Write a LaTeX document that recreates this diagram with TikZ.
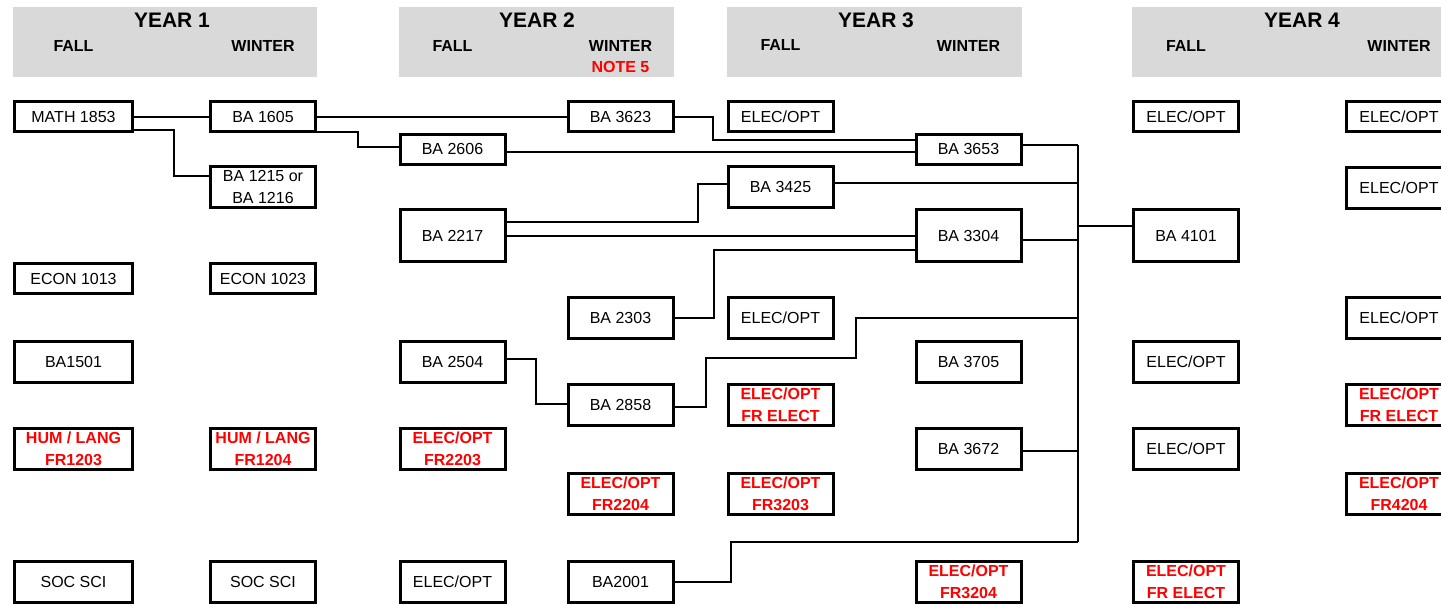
\documentclass[tikz,border=0pt]{standalone}
\usepackage{fontspec}
\setmainfont{Liberation Sans}
\definecolor{hdrgray}{RGB}{217,217,217}
\tikzset{
  course/.style={draw, line width=3pt, minimum width=105pt, minimum height=41pt,
    inner sep=0pt, align=center, font=\fontsize{16}{22}\selectfont},
  fr/.style={text=red, font=\fontsize{16}{22}\selectfont\bfseries},
  wide/.style={minimum width=118pt},
  low/.style={minimum height=30pt},
  tall/.style={minimum height=52pt},
  link/.style={line width=2pt},
  yearlbl/.style={font=\fontsize{21}{25}\selectfont\bfseries},
  termlbl/.style={font=\fontsize{16}{19}\selectfont\bfseries},
}
\begin{document}
\begin{tikzpicture}[x=1pt, y=-1pt]
  \useasboundingbox (0,0) rectangle (1441,605);
  \clip (0,0) rectangle (1441,605);
  % year headers
  \fill[hdrgray] (13,7) rectangle (317,77);
  \fill[hdrgray] (399,7) rectangle (674,77);
  \fill[hdrgray] (727,7) rectangle (1022,77);
  \fill[hdrgray] (1132,7) rectangle (1441,77);
  \node[yearlbl] (year1) at (172,20) {YEAR 1};
  \node[termlbl] (fall1) at (73.5,46) {FALL};
  \node[termlbl] (winter1) at (263,46) {WINTER};
  \node[yearlbl] (year2) at (537,20) {YEAR 2};
  \node[termlbl] (fall2) at (452.5,46) {FALL};
  \node[termlbl] (winter2) at (620.5,46) {WINTER};
  \node[termlbl, text=red] (note5) at (620.5,67) {NOTE 5};
  \node[yearlbl] (year3) at (876,20) {YEAR 3};
  \node[termlbl] (fall3) at (780.5,45) {FALL};
  \node[termlbl] (winter3) at (968.5,46) {WINTER};
  \node[yearlbl] (year4) at (1302,20) {YEAR 4};
  \node[termlbl] (fall4) at (1186,46) {FALL};
  \node[termlbl] (winter4) at (1399,46) {WINTER};

  % year 1 fall
  \node[course, wide, low] (math1853) at (73.5,116.5) {MATH 1853};
  \node[course, wide, low] (econ1013) at (73.5,278.5) {ECON 1013};
  \node[course, wide] (ba1501) at (73.5,361.5) {BA1501};
  \node[course, wide, fr] (hum1203) at (73.5,448.5) {HUM / LANG\\FR1203};
  \node[course, wide] (socsciA) at (73.5,582) {SOC SCI};
  % year 1 winter
  \node[course, low] (ba1605) at (263,116.5) {BA 1605};
  \node[course] (ba1215) at (263,186.5) {BA 1215 or\\BA 1216};
  \node[course, low] (econ1023) at (263,278.5) {ECON 1023};
  \node[course, fr] (hum1204) at (263,448.5) {HUM / LANG\\FR1204};
  \node[course] (socsciB) at (263,582) {SOC SCI};
  % year 2 fall
  \node[course, low] (ba2606) at (452.5,149) {BA 2606};
  \node[course, tall] (ba2217) at (452.5,235.5) {BA 2217};
  \node[course] (ba2504) at (452.5,361.5) {BA 2504};
  \node[course, fr] (fr2203) at (452.5,448.5) {ELEC/OPT\\FR2203};
  \node[course] (elecC) at (452.5,582) {ELEC/OPT};
  % year 2 winter
  \node[course, low] (ba3623) at (620.5,116.5) {BA 3623};
  \node[course] (ba2303) at (620.5,317.5) {BA 2303};
  \node[course] (ba2858) at (620.5,404.5) {BA 2858};
  \node[course, fr] (fr2204) at (620.5,493.5) {ELEC/OPT\\FR2204};
  \node[course] (ba2001) at (620.5,582) {BA2001};
  % year 3 fall
  \node[course, low] (elecE1) at (780.5,116.5) {ELEC/OPT};
  \node[course] (ba3425) at (780.5,186.5) {BA 3425};
  \node[course] (elecE2) at (780.5,317.5) {ELEC/OPT};
  \node[course, fr] (frelectE) at (780.5,404.5) {ELEC/OPT\\FR ELECT};
  \node[course, fr] (fr3203) at (780.5,493.5) {ELEC/OPT\\FR3203};
  % year 3 winter
  \node[course, low] (ba3653) at (968.5,149) {BA 3653};
  \node[course, tall] (ba3304) at (968.5,235.5) {BA 3304};
  \node[course] (ba3705) at (968.5,361.5) {BA 3705};
  \node[course] (ba3672) at (968.5,448.5) {BA 3672};
  \node[course, fr] (fr3204) at (968.5,582) {ELEC/OPT\\FR3204};
  % year 4 fall
  \node[course, low] (elecG1) at (1186,116.5) {ELEC/OPT};
  \node[course, tall] (ba4101) at (1186,235.5) {BA 4101};
  \node[course] (elecG2) at (1186,361.5) {ELEC/OPT};
  \node[course] (elecG3) at (1186,448.5) {ELEC/OPT};
  \node[course, fr] (frelectG) at (1186,582) {ELEC/OPT\\FR ELECT};
  % year 4 winter
  \node[course, low] (elecH1) at (1399,116.5) {ELEC/OPT};
  \node[course] (elecH2) at (1399,187.5) {ELEC/OPT};
  \node[course] (elecH3) at (1399,317.5) {ELEC/OPT};
  \node[course, fr] (frelectH) at (1399,404.5) {ELEC/OPT\\FR ELECT};
  \node[course, fr] (fr4204) at (1399,493.5) {ELEC/OPT\\FR4204};

  % prerequisite lines
  \coordinate (bustop) at (1078,145);
  \coordinate (busbot) at (1078,542);
  \begin{scope}[link]
    \draw (math1853.east) -- (ba1605.west);
    \draw ([yshift=-13.5pt]math1853.east) -- ++(40,0) |- ([yshift=10.5pt]ba1215.west);
    \draw (ba1605.east) -- (ba3623.west);
    \draw ([yshift=-15pt]ba1605.east) -- ++(41,0) |- ([yshift=2pt]ba2606.west);
    \draw ([yshift=-3pt]ba2606.east) -- ([yshift=-3pt]ba3653.west);
    \draw (ba3623.east) -- ++(38,0) |- ([yshift=9pt]ba3653.west);
    \draw ([yshift=14pt]ba2217.east) -- ++(191,0) |- ([yshift=3pt]ba3425.west);
    \draw (ba2217.east) -- (ba3304.west);
    \draw (ba2303.east) -- ++(39,0) |- ([yshift=-14pt]ba3304.west);
    \draw ([yshift=3pt]ba2504.east) -- ++(29,0) |- ([yshift=1pt]ba2858.west);
    \draw ([yshift=-2pt]ba2858.east) -- ++(31,0) |- ++(150,-48.5) |- (1078,318);
    \draw (bustop) -- (busbot);
    \draw ([yshift=4pt]ba3653.east) -- (bustop);
    \draw ([yshift=3.5pt]ba3425.east) -- ([yshift=3.5pt]ba3425.east -| bustop);
    \draw ([yshift=-4pt]ba3304.east) -- ([yshift=-4pt]ba3304.east -| bustop);
    \draw ([yshift=10pt]ba4101.west) -- ([yshift=10pt]ba4101.west -| bustop);
    \draw ([yshift=-2.5pt]ba3672.east) -- ([yshift=-2.5pt]ba3672.east -| bustop);
    \draw (ba2001.east) -- ++(56,0) |- (busbot);
  \end{scope}
\end{tikzpicture}
\end{document}
